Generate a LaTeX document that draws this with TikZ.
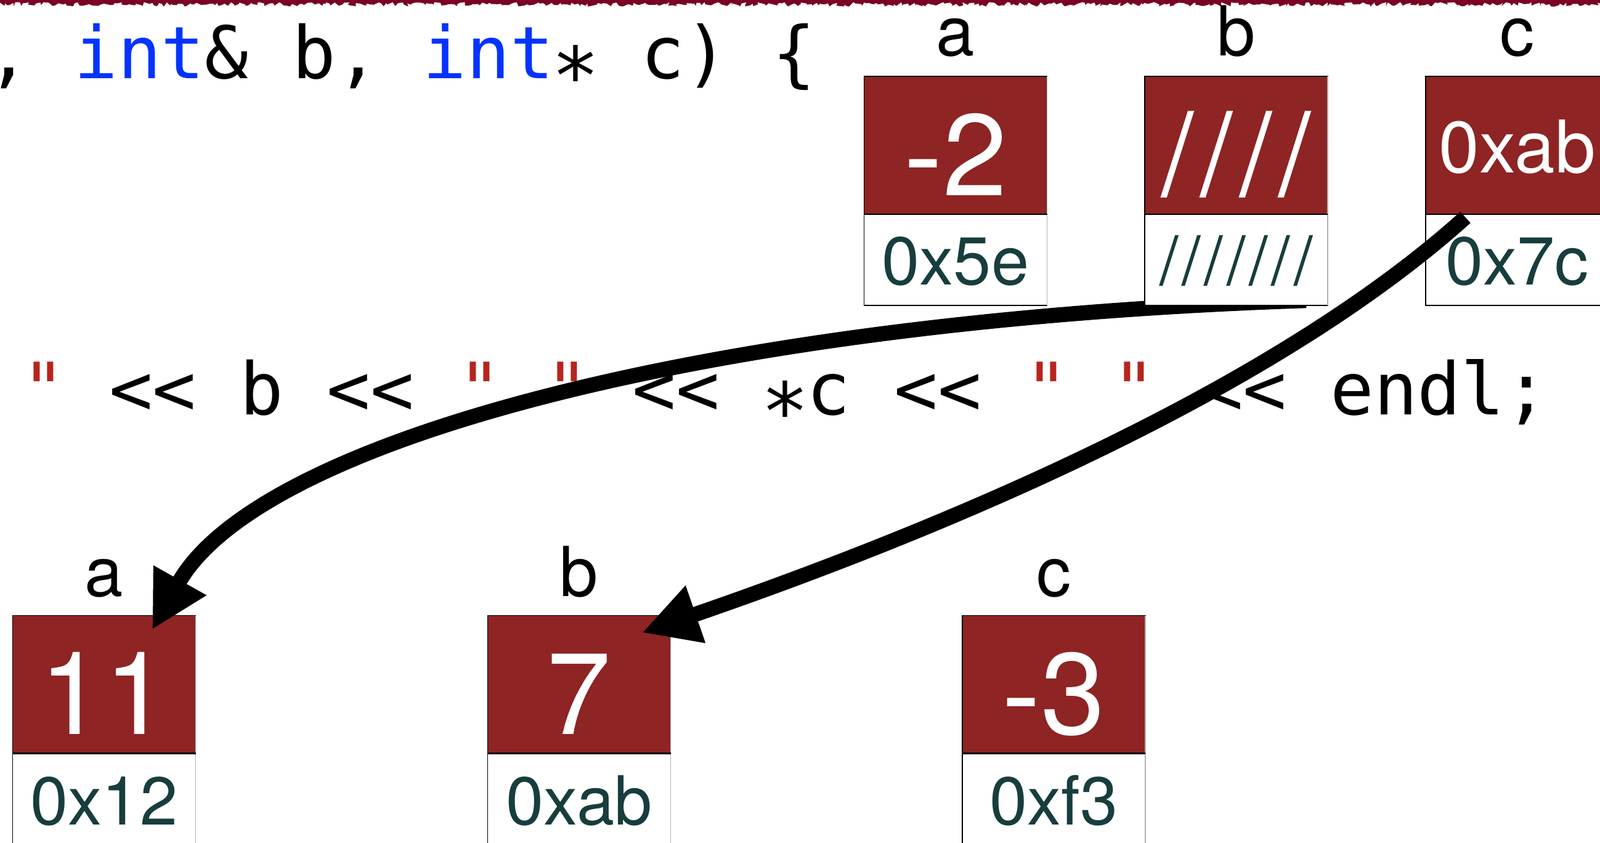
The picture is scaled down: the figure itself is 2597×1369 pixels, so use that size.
\documentclass[tikz,border=0pt]{standalone}
\usepackage{graphicx}
\usepackage{fontspec}
\setsansfont{TeX Gyre Heros}
\newfontfamily\codefont{DejaVu Sans Mono}[Ligatures=TeXOff]
\usetikzlibrary{positioning,arrows.meta,decorations.pathmorphing}

\definecolor{bordeaux}{RGB}{123,0,38}
\definecolor{rougecase}{RGB}{142,36,36}
\definecolor{encre}{RGB}{23,61,61}
\definecolor{motcle}{RGB}{4,51,255}
\definecolor{chaine}{RGB}{183,36,28}

% etoile centree comme dans l'editeur
\newcommand{\etoile}{\makebox[0.602em]{\raisebox{-0.35em}{\scalebox{1.1}{*}}}}

\tikzset{
  valeur/.style={draw=black, line width=0.6pt, fill=rougecase, minimum width=148.5pt, minimum height=112pt, inner sep=0pt, outer sep=0pt},
  adresse/.style={draw=black, line width=0.6pt, fill=white, minimum width=148.5pt, minimum height=74pt, inner sep=0pt, outer sep=0pt},
  chiffre/.style={anchor=base, inner sep=0pt, text=white, font=\sffamily\fontsize{94pt}{94pt}\selectfont},
  petitchiffre/.style={chiffre, font=\sffamily\fontsize{59pt}{59pt}\selectfont},
  hexa/.style={anchor=base, inner sep=0pt, text=encre, font=\sffamily\fontsize{55pt}{55pt}\selectfont},
  nomvar/.style={anchor=base, inner sep=0pt, font=\sffamily\fontsize{56pt}{56pt}\selectfont},
  code/.style={anchor=base west, inner sep=0pt, font=\codefont\fontsize{58.8pt}{60pt}\selectfont},
  bords/.style={gray!60, line width=0.6pt},
  separation/.style={black, line width=1.2pt},
  fleche/.style={line width=12.3pt, -{Triangle[length=46pt,width=46pt]}},
}

\begin{document}
\begin{tikzpicture}[x=0.5pt,y=-0.5pt]
  % Cadre de l'image (les cases qui depassent sont coupees)
  \useasboundingbox (0,0) rectangle (2597,1369);
  \clip (0,0) rectangle (2597,1369);

  % Bande bordeaux dechiree en haut
  \fill[bordeaux, decorate, decoration={random steps, segment length=2pt, amplitude=1.8pt}]
    (-20,-20) -- (2620,-20) -- (2620,7) -- (-20,7) -- cycle;

  % Les deux lignes de code
  \node[code] (ligne1) at (-21.6,128) {, {\color{motcle}int}\&~b, {\color{motcle}int}\etoile{}~c) \{};
  \node[code] (ligne2) at (35,673) {{\color{chaine}"} << b << {\color{chaine}" "} << \etoile{}c << {\color{chaine}" "} << endl;};

  % Les variables de l'appelant (en bas)
  \node[valeur] (ma) at (169,1111.5) {};
  \node[adresse, below=0pt of ma] (ma-adr) {};
  \node[valeur] (mb) at (940,1111.5) {};
  \node[adresse, below=0pt of mb] (mb-adr) {};
  \node[valeur] (mc) at (1710.5,1111.5) {};
  \node[adresse, below=0pt of mc] (mc-adr) {};
  \foreach \v in {ma,mb,mc} {
    \draw[bords] (\v.north east) -- (\v-adr.south east);
    \draw[separation] (\v.south west) -- (\v.south east);
  }
  \node[nomvar] at ([yshift=15.5pt]ma.north) {a};
  \node[nomvar] at ([yshift=15.5pt]mb.north) {b};
  \node[nomvar] at ([yshift=15.5pt]mc.north) {c};
  \node[chiffre] at ([yshift=15.5pt]ma.south) {11};
  \node[chiffre] at ([yshift=15.5pt]mb.south) {7};
  \node[chiffre] at ([yshift=15.5pt]mc.south) {-3};
  \node[hexa] at ([yshift=16pt]ma-adr.south) {0x12};
  \node[hexa] at ([yshift=16pt]mb-adr.south) {0xab};
  \node[hexa] at ([yshift=16pt]mc-adr.south) {0xf3};

  % b est une reference : la fleche part de sous la case b
  \coordinate (origb) at (2120,488);
  \draw[fleche] (origb) .. controls (1150,520) and (420,715) .. ([shift={(39pt,-11.5pt)}]ma.north);

  % Les parametres de la fonction (en haut)
  \node[valeur] (pa) at (1551,236) {};
  \node[adresse, below=0pt of pa] (pa-adr) {};
  \node[valeur] (pb) at (2006.5,236) {};
  \node[adresse, below=0pt of pb] (pb-adr) {};
  \node[valeur] (pc) at (2462.5,236) {};
  \node[adresse, below=0pt of pc] (pc-adr) {};
  \foreach \v in {pa,pb,pc} {
    \draw[bords] (\v.north east) -- (\v-adr.south east);
    \draw[separation] (\v.south west) -- (\v.south east);
  }
  \node[nomvar] at ([yshift=16.5pt]pa.north) {a};
  \node[nomvar] at ([yshift=16.5pt]pb.north) {b};
  \node[nomvar] at ([yshift=16.5pt]pc.north) {c};
  \node[chiffre] at ([yshift=15pt]pa.south) {-2};
  \node[chiffre] at ([yshift=15pt]pb.south) {/\kern5.5pt/\kern5.5pt/\kern5.5pt/};
  \node[petitchiffre] at ([yshift=33.5pt]pc.south) {0xab};
  \node[hexa] at ([yshift=16.5pt]pa-adr.south) {0x5e};
  \node[hexa] at ([yshift=16.5pt]pb-adr.south) {/\kern2.9pt/\kern2.9pt/\kern2.9pt/\kern2.9pt/\kern2.9pt/\kern2.9pt/};
  \node[hexa] at ([yshift=16.5pt]pc-adr.south) {0x7c};

  % c est un pointeur vers le b de l'appelant
  \draw[fleche] ([shift={(-42pt,-2.5pt)}]pc.south) .. controls (2044,654) and (1467,881) .. ([shift={(51pt,-14pt)}]mb.north);
\end{tikzpicture}
\end{document}
